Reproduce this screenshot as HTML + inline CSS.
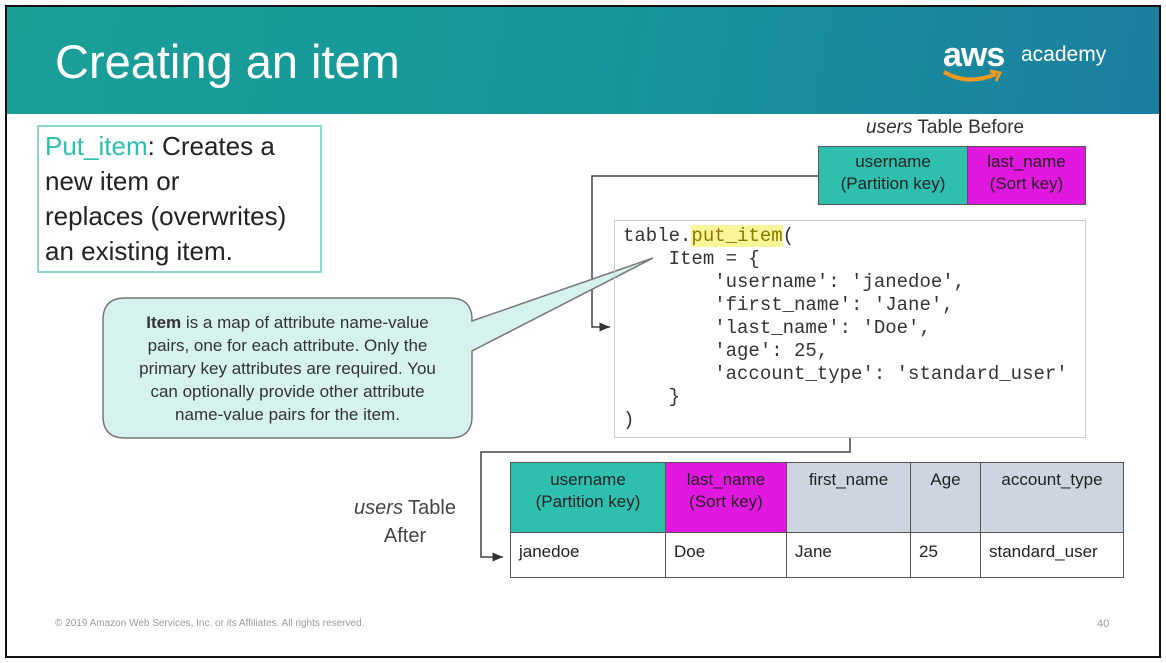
<!DOCTYPE html>
<html><head><meta charset="utf-8"><style>
*{margin:0;padding:0;box-sizing:border-box}
body{width:1166px;height:663px;background:#fff;position:relative;overflow:hidden;font-family:"Liberation Sans","DejaVu Sans",sans-serif;color:#222}
.a{position:absolute}
.frame{left:5px;top:5px;width:1156px;height:653px;border:2px solid #111}
.hdr{left:7px;top:7px;width:1152px;height:107px;background:linear-gradient(100deg,#1a9f97 0%,#17969a 50%,#1a7fa0 100%)}
.title{left:55px;top:34px;font-size:47px;color:#fff;letter-spacing:0px}
.code{font-family:"Liberation Mono",monospace;font-size:19px;line-height:23px;white-space:pre;color:#333}
td{border:1px solid #555;font-size:17px;vertical-align:top;padding:6px 8px;line-height:22px}
table{border-collapse:collapse;position:absolute}
</style></head><body>
<div class="a hdr"></div>
<div class="a frame"></div>
<div class="a title">Creating an item</div>
<div class="a" style="left:943px;top:36px;font-size:34px;color:#fff;font-weight:bold;letter-spacing:-1px">aws</div>
<div class="a" style="left:1021px;top:43px;font-size:21px;color:#fff">academy</div>
<svg class="a" style="left:940px;top:68px" width="70" height="20"><path d="M4 4 Q28 18 56 6" stroke="#f29a1f" stroke-width="4" fill="none"/><path d="M50 3 L60 5 L56 13" stroke="#f29a1f" stroke-width="3" fill="none"/></svg>

<div class="a" style="left:37px;top:125px;width:285px;height:148px;border:2px solid #8ad8cf"></div>
<div class="a" style="left:45px;top:129px;font-size:26px;line-height:35px;color:#222"><span style="color:#2cbfae">Put_item</span>: Creates a<br>new item or<br>replaces (overwrites)<br>an existing item.</div>

<svg class="a" style="left:0;top:0" width="1166" height="663">
<defs><marker id="ar" markerWidth="8" markerHeight="8" refX="7" refY="4" orient="auto"><path d="M0 1 L7 4 L0 7z" fill="#333"/></marker></defs>
<polyline points="818,176 592,176 592,327 610,327" fill="none" stroke="#444" stroke-width="1.5" marker-end="url(#ar)"/>
<polyline points="850,438 850,452 481,452 481,557 503,557" fill="none" stroke="#444" stroke-width="1.5" marker-end="url(#ar)"/>
<path d="M125 298 H450 Q472 298 472 320 V321 L653 258 L472 351 V416 Q472 438 450 438 H125 Q103 438 103 416 V320 Q103 298 125 298 Z" fill="#d6f2ee" stroke="#777" stroke-width="1.5"/>
</svg>
<div class="a" style="left:103px;top:311px;width:369px;text-align:center;font-size:17px;line-height:23px;color:#333;white-space:nowrap"><b>Item</b> is a map of attribute name-value<br>pairs, one for each attribute. Only the<br>primary key attributes are required. You<br>can optionally provide other attribute<br>name-value pairs for the item.</div>

<div class="a" style="left:866px;top:117px;font-size:19px;color:#333"><i>users</i> Table Before</div>
<table style="left:818px;top:146px;width:268px;height:59px"><tr>
<td style="background:#2fbfae;text-align:center;width:149px;padding:4px 2px">username<br>(Partition key)</td>
<td style="background:#e318e0;text-align:center;padding:4px 2px">last_name<br>(Sort key)</td></tr></table>

<div class="a" style="left:614px;top:220px;width:472px;height:218px;border:1.5px solid #ccc"></div>
<div class="a code" style="left:623px;top:225px">table.<span style="background:#fbf59a;color:#8a7a00">put_item</span>(
    Item = {
        'username': 'janedoe',
        'first_name': 'Jane',
        'last_name': 'Doe',
        'age': 25,
        'account_type': 'standard_user'
    }
)</div>

<div class="a" style="left:350px;top:494px;width:110px;text-align:center;font-size:20px;line-height:28px;color:#444"><i>users</i> Table<br>After</div>
<table style="left:510px;top:462px;width:614px;height:116px">
<tr style="height:70px">
<td style="background:#2fbfae;text-align:center;width:155px;padding:6px 2px">username<br>(Partition key)</td>
<td style="background:#e318e0;text-align:center;width:121px;padding:6px 2px">last_name<br>(Sort key)</td>
<td style="background:#ccd5e0;text-align:center;width:124px">first_name</td>
<td style="background:#ccd5e0;text-align:center;width:70px">Age</td>
<td style="background:#ccd5e0;text-align:center">account_type</td></tr>
<tr><td style="padding-top:8px">janedoe</td><td style="padding-top:8px">Doe</td><td style="padding-top:8px">Jane</td><td style="padding-top:8px">25</td><td style="padding-top:8px">standard_user</td></tr>
</table>

<div class="a" style="left:55px;top:618px;font-size:10px;color:#999">© 2019 Amazon Web Services, Inc. or its Affiliates. All rights reserved.</div>
<div class="a" style="left:1097px;top:618px;font-size:11px;color:#999">40</div>
</body></html>
